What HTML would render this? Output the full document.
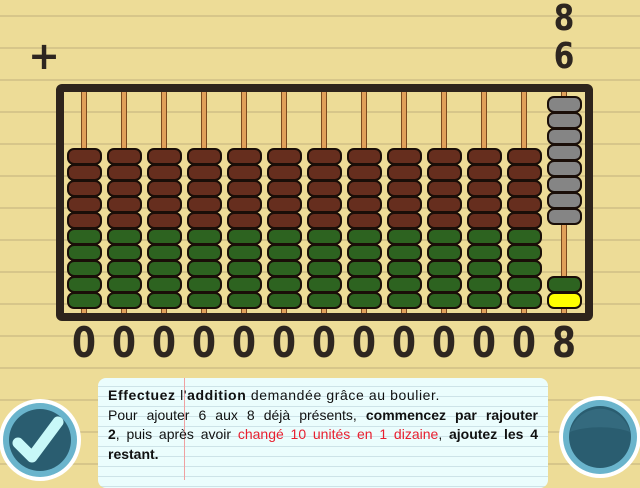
<!DOCTYPE html>
<html><head><meta charset="utf-8"><style>
body{margin:0;width:640px;height:480px;overflow:hidden;position:relative;font-family:"Liberation Sans",sans-serif;
background:#eddc97 repeating-linear-gradient(to bottom,transparent 0,transparent 15px,#d7c68a 15px,#d7c68a 17px,transparent 17px,transparent 32px);}
.dig{position:absolute;font-family:"DejaVu Sans",sans-serif;font-weight:bold;color:#2e2620;text-align:center;width:40px;transform:scaleX(0.82);}
#frame{position:absolute;left:56px;top:84px;width:521px;height:221px;border:8px solid #2e241c;border-radius:6px;}
.rod{position:absolute;width:4px;background:#e0a05a;border-left:1px solid #7a4a20;border-right:1px solid #7a4a20;}
.bead{position:absolute;width:31px;height:13px;border:2px solid #1a0e08;border-radius:7px;}
#box{position:absolute;left:98px;top:378px;width:450px;height:110px;border-radius:8px;
background:#ebfdfd repeating-linear-gradient(to bottom,transparent 0,transparent 8px,#cde3e8 8px,#cde3e8 9px,transparent 9px,transparent 10px);}
#txt{position:absolute;left:108px;top:386px;width:430px;font-size:14px;line-height:19.5px;color:#111;}
#txt div{white-space:nowrap;height:19.5px}
#txt .j{text-align:justify;text-align-last:justify}
</style></head><body>
<div class="dig" style="left:24px;top:34px;font-size:38px;transform:none">+</div>
<div class="dig" style="left:544px;top:-2px;font-size:36px">8</div>
<div class="dig" style="left:544px;top:36px;font-size:36px">6</div>
<div id="frame"></div>
<div id="abacus"></div>
<div id="box"></div>
<div style="position:absolute;left:184px;top:378px;width:1px;height:102px;background:#f0a0a0"></div>
<div id="txt">
<div style="letter-spacing:0.6px"><b>Effectuez</b> l'<b>addition</b> demandée grâce au boulier.</div>
<div class="j">Pour ajouter 6 aux 8 déjà présents, <b>commencez par rajouter</b></div>
<div class="j"><b>2</b>, puis après avoir <span style="color:#e82030">changé 10 unités en 1 dizaine</span>, <b>ajoutez les 4</b></div>
<div><b>restant.</b></div>
</div>
<svg style="position:absolute;left:0;top:395px" width="90" height="90">
<circle cx="40" cy="45" r="41" fill="#fff"/><circle cx="40" cy="45" r="37" fill="#6ab4cc"/><circle cx="40" cy="45" r="31" fill="#2a5d70"/>
<path d="M18 48 L32 62 L58 27" stroke="#c8f8f8" stroke-width="11" fill="none" stroke-linecap="round" stroke-linejoin="round"/></svg>
<svg style="position:absolute;left:555px;top:392px" width="90" height="90">
<circle cx="45" cy="45" r="41" fill="#fff"/><circle cx="45" cy="45" r="37" fill="#6ab4cc"/><circle cx="45" cy="45" r="31" fill="#2a5d70"/>
<path d="M15 40 A31 31 0 0 1 75 40 A40 14 0 0 0 15 40Z" fill="#346a7e"/></svg>
<script>
const digits=[0,0,0,0,0,0,0,0,0,0,0,0,8];
const ab=document.getElementById('abacus');
const body=document.body;
digits.forEach((d,i)=>{
 const cx=84+i*40;
 const rod=document.createElement('div');rod.className='rod';
 
 
 rod.style.left=(cx-3)+'px';rod.style.top='92px';rod.style.height='221px';ab.appendChild(rod);
 let beads=[];
 if(i<12){for(let k=0;k<5;k++)beads.push([148+k*16,'#662e1e']);for(let k=0;k<5;k++)beads.push([228+k*16,'#2d6320']);}
 else{for(let k=0;k<8;k++)beads.push([96+k*16,'#858585']);beads.push([276,'#2d6320']);beads.push([292,'#ffff00']);}
 beads.forEach(b=>{const e=document.createElement('div');e.className='bead';
  
  
  e.style.left=(cx-17)+'px';e.style.top=b[0]+'px';e.style.background=b[1];ab.appendChild(e);});
 const t=document.createElement('div');t.className='dig';
 
 
 t.style.left=(cx-20)+'px';t.style.top='318px';t.style.fontSize='42px';t.textContent=d;body.appendChild(t);
});
</script>
</body></html>
